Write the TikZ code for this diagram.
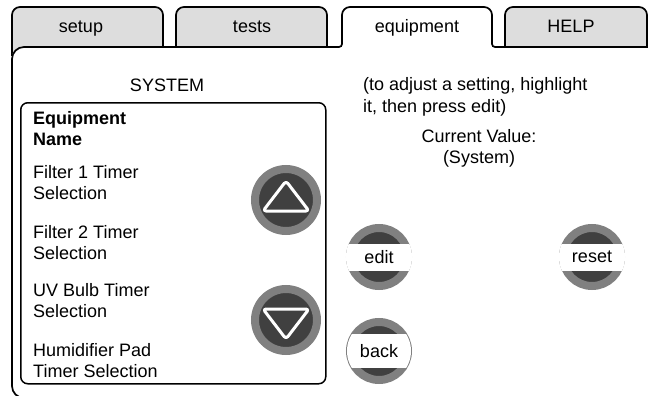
\documentclass[tikz,border=0pt]{standalone}
\usepackage{fontspec}
\setmainfont{Liberation Sans}
\usepackage{tikz}
\usetikzlibrary{positioning}

\definecolor{tabgray}{HTML}{DDDDDD}
\definecolor{ringgray}{HTML}{808080}
\definecolor{knobdark}{HTML}{404040}

\newcommand{\uitext}{\fontsize{18}{21}\selectfont}

\tikzset{
  tabshape/.style={draw=black,line width=1.7pt,fill=tabgray,rounded corners=8pt},
  panelline/.style={draw=black,line width=1.7pt},
  listline/.style={draw=black,line width=1.5pt,rounded corners=7pt,inner sep=0pt},
  uilabel/.style={font=\uitext,inner sep=0pt},
  entry/.style={font=\uitext,align=left,inner sep=0pt},
  bigknob/.style={circle,fill=knobdark,draw=ringgray,line width=8pt,minimum size=62pt,inner sep=0pt},
  knob/.style={circle,fill=knobdark,draw=ringgray,line width=8pt,minimum size=58pt,inner sep=0pt},
  arrowline/.style={draw=white,fill=knobdark,line width=3pt,rounded corners=3pt,line join=round}
}

\begin{document}
\begin{tikzpicture}[x=1pt,y=-1pt]
	\useasboundingbox (0,0) rectangle (648,396);
	% tabs behind the panel
	\filldraw[tabshape] (12,56) -- (12,7) -- (163,7) -- (163,56);
	\filldraw[tabshape] (176,56) -- (176,7) -- (327,7) -- (327,56);
	\filldraw[tabshape] (505,56) -- (505,7) -- (647,7) -- (647,56);
	% panel with the open equipment tab
	\fill[white,rounded corners=10pt] (12,47) rectangle (660,410);
	\draw[panelline] (660,47) [rounded corners=3pt] -- (492,47) [rounded corners=8pt] -- (492,7) -- (342,7)
		[rounded corners=3pt] -- (342,47) [rounded corners=12pt] -- (12,47) -- (12,398) -- (660,398);
	\node (setup) [uilabel,anchor=base] at (81,33) {setup};
	\node (tests) [uilabel,anchor=base] at (252,33) {tests};
	\node (equip) [uilabel,anchor=base] at (417,33) {equipment};
	\node (help) [uilabel,anchor=base] at (571,33) {HELP};

	% list of equipment
	\node (system) [uilabel,anchor=base] at (167,92) {SYSTEM};
	\node (list) [listline,minimum width=305pt,minimum height=281pt,anchor=north west] at (20,102) {};
	\node (eqname) [entry,anchor=base west,font=\uitext\bfseries] at (33,145) {Equipment\\Name};
	\node (filter1) [entry,below right=20pt and 0pt of eqname.south west] {Filter 1 Timer\\Selection};
	\node (filter2) [entry,below right=25pt and 0pt of filter1.south west] {Filter 2 Timer\\Selection};
	\node (uvbulb) [entry,below right=24pt and 0pt of filter2.south west] {UV Bulb Timer\\Selection};
	\node (humid) [entry,below right=25pt and 0pt of uvbulb.south west] {Humidifier Pad\\Timer Selection};

	% scroll buttons
	\node (up) [bigknob] at (286,200) {};
	\draw[arrowline] ([shift={(0,-19)}]up.center) -- ([shift={(23,11)}]up.center) -- ([shift={(-23,11)}]up.center) -- cycle;
	\node (down) [bigknob] at (286,320) {};
	\draw[arrowline] ([shift={(-23,-11)}]down.center) -- ([shift={(23,-11)}]down.center) -- ([shift={(0,19)}]down.center) -- cycle;

	% help text
	\node (hint) [entry,anchor=base west] at (363,112) {(to adjust a setting, highlight\\it, then press edit)};
	\node (current) [uilabel,align=center,anchor=base] at (479,163) {Current Value:\\(System)};

	% edit, reset and back buttons
	\node (edit) [knob] at (379,257) {};
	\node (reset) [knob] at (592,257) {};
	\node (back) [knob] at (379,351) {};
	\begin{scope}
		\clip (edit.center) circle[radius=33pt];
		\fill[white] ([shift={(-40,-13.5)}]edit.center) rectangle ([shift={(40,13.5)}]edit.center);
	\end{scope}
	\begin{scope}
		\clip (reset.center) circle[radius=33pt];
		\fill[white] ([shift={(-40,-13.5)}]reset.center) rectangle ([shift={(40,13.5)}]reset.center);
	\end{scope}
	\begin{scope}
		\clip (back.center) circle[radius=32pt];
		\fill[white] ([shift={(-40,-17)}]back.center) rectangle ([shift={(40,17)}]back.center);
	\end{scope}
	\node (editlabel) [uilabel] at (edit) {edit};
	\node (resetlabel) [uilabel] at (reset) {reset};
	\node (backlabel) [uilabel] at (back) {back};
\end{tikzpicture}
\end{document}
